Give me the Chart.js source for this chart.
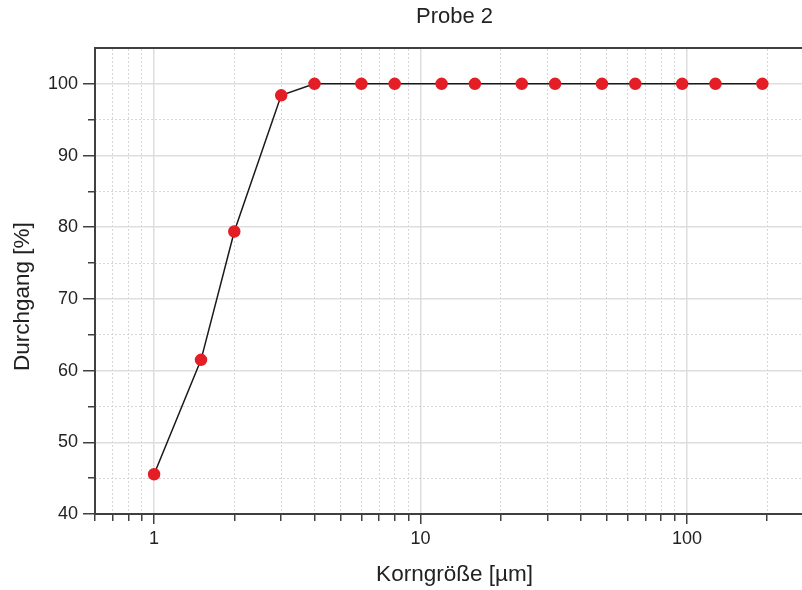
<!DOCTYPE html>
<html>
<head>
<meta charset="utf-8">
<script src="https://cdn.jsdelivr.net/npm/chart.js@4/dist/chart.umd.min.js"></script>
<style>
  html, body { margin: 0; padding: 0; background: #fff; overflow: hidden; }
  #chart { display: block; }
</style>
</head>
<body>
<!-- the plot runs past the right edge of the window, as in the original crop -->
<canvas id="chart" width="821" height="590"></canvas>
<script>
// Sieblinie Probe 2
const grainSizes = [1, 1.5, 2, 3, 4, 6, 8, 12, 16, 24, 32, 48, 64, 96, 128, 192];
const passing = [45.55, 61.5, 79.4, 98.4, 100, 100, 100, 100, 100, 100, 100, 100, 100, 100, 100, 100];

const xTicks = [0.6, 0.7, 0.8, 0.9, 1, 2, 3, 4, 5, 6, 7, 8, 9, 10, 20, 30, 40, 50, 60, 70, 80, 90, 100, 200];
const yTicks = [40, 45, 50, 55, 60, 65, 70, 75, 80, 85, 90, 95, 100];

const FONT = "'Liberation Sans', Arial, sans-serif";
const AXIS = '#404040';
const GRID = '#dedede';
const GRID_MINOR = '#d6d6d6';

const isDecade = v => Math.abs(Math.log10(v) - Math.round(Math.log10(v))) < 1e-9;
const isTen = v => v % 10 === 0;

const setTicks = list => scale => { scale.ticks = list.map(v => ({ value: v })); };

const ctx = document.getElementById('chart').getContext('2d');

new Chart(ctx, {
  type: 'line',
  data: {
    datasets: [{
      data: grainSizes.map((x, i) => ({ x: x, y: passing[i] })),
      borderColor: '#1a1a1a',
      borderWidth: 1.5,
      pointBackgroundColor: '#e41e26',
      pointBorderColor: '#e41e26',
      pointRadius: 5.5,
      pointHoverRadius: 5.5,
      tension: 0,
      clip: false
    }]
  },
  options: {
    responsive: false,
    animation: false,
    layout: { padding: 0 },
    plugins: {
      legend: { display: false },
      tooltip: { enabled: false },
      title: {
        display: true,
        fullSize: false,
        text: 'Probe 2',
        color: '#222',
        font: { family: FONT, size: 22, weight: 'normal' },
        padding: { top: 4, bottom: 0 }
      }
    },
    scales: {
      x: {
        type: 'logarithmic',
        position: 'bottom',
        min: 0.6,
        max: 300,
        afterBuildTicks: setTicks(xTicks),
        afterFit: s => { s.height = 76; },
        border: { display: true, color: AXIS, width: 2 },
        grid: {
          color: c => (c.tick && isDecade(c.tick.value)) ? GRID : 'rgba(0,0,0,0)',
          lineWidth: 1.5,
          tickColor: AXIS,
          tickWidth: 1.5,
          tickLength: 10,
          tickBorderDash: c => (c.tick && isDecade(c.tick.value)) ? [] : [6, 100]
        },
        ticks: {
          autoSkip: false,
          maxRotation: 0,
          padding: 4,
          color: '#222',
          font: { family: FONT, size: 18 },
          callback: v => isDecade(v) ? String(v) : ''
        },
        title: {
          display: true,
          text: 'Korngröße [µm]',
          color: '#222',
          font: { family: FONT, size: 22.5 },
          padding: { top: 0, bottom: 1.5 }
        }
      },
      xMinor: {
        type: 'logarithmic',
        position: 'top',
        min: 0.6,
        max: 300,
        afterBuildTicks: setTicks(xTicks),
        afterFit: s => { s.height = 17.6; },
        border: { display: true, color: AXIS, width: 2, dash: [2, 2] },
        grid: {
          color: c => (c.tick && !isDecade(c.tick.value)) ? GRID_MINOR : 'rgba(0,0,0,0)',
          lineWidth: 1,
          drawTicks: false
        },
        ticks: { display: false }
      },
      y: {
        type: 'linear',
        position: 'left',
        min: 40,
        max: 105,
        afterBuildTicks: setTicks(yTicks),
        afterFit: s => { s.width = 95; },
        border: { display: true, color: AXIS, width: 2 },
        grid: {
          color: c => (c.tick && isTen(c.tick.value)) ? GRID : 'rgba(0,0,0,0)',
          lineWidth: 1.5,
          tickColor: AXIS,
          tickWidth: 1.5,
          tickLength: 12,
          tickBorderDash: c => (c.tick && isTen(c.tick.value)) ? [] : [0, 5, 7, 100]
        },
        ticks: {
          autoSkip: false,
          padding: 5,
          color: '#222',
          font: { family: FONT, size: 18 },
          callback: v => isTen(v) ? String(v) : ''
        },
        title: {
          display: true,
          text: 'Durchgang [%]     ',
          color: '#222',
          font: { family: FONT, size: 22.5 },
          padding: { top: 9.5, bottom: 0 }
        }
      },
      yMinor: {
        type: 'linear',
        position: 'right',
        min: 40,
        max: 105,
        afterBuildTicks: setTicks(yTicks),
        afterFit: s => { s.width = 0; },
        border: { display: false, dash: [2, 2] },
        grid: {
          color: c => (c.tick && !isTen(c.tick.value)) ? GRID_MINOR : 'rgba(0,0,0,0)',
          lineWidth: 1,
          drawTicks: false
        },
        ticks: { display: false }
      }
    }
  }
});
</script>
</body>
</html>
